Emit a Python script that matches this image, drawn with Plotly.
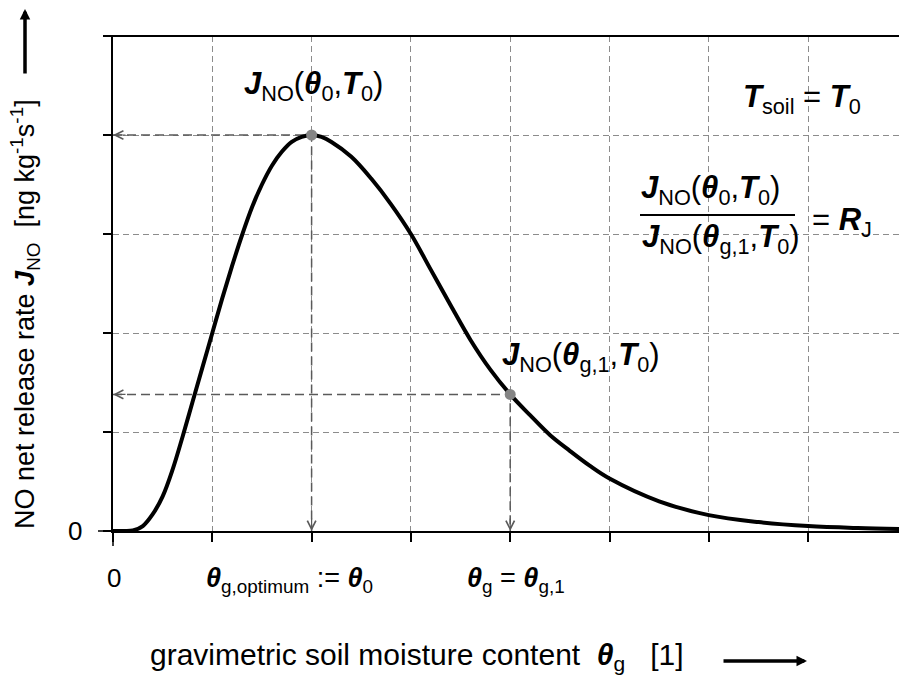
import plotly.graph_objects as go

# ---- data ----
theta = [0, 0.1, 0.2, 0.3, 0.4, 0.5, 0.6, 0.7, 0.8, 0.9, 1.0, 1.1, 1.2, 1.3, 1.4,
         1.5, 1.6, 1.7, 1.8, 1.9, 2.0, 2.1, 2.2, 2.4, 2.6, 2.8, 3.0, 3.2, 3.4, 3.6, 3.8,
         4.0, 4.2, 4.4, 4.6, 4.8, 5.0, 5.5, 6.0, 6.5, 7.0, 7.5, 7.92]
j_no = [0, 0, 0.005, 0.05, 0.17, 0.35, 0.62, 0.95, 1.3, 1.65, 2.0, 2.35, 2.68, 2.99, 3.27,
        3.5, 3.69, 3.83, 3.93, 3.98, 4.0, 3.98, 3.93, 3.78, 3.56, 3.3, 3.0, 2.64, 2.28, 1.93, 1.63,
        1.38, 1.17, 0.97, 0.81, 0.66, 0.53, 0.3, 0.16, 0.09, 0.05, 0.03, 0.02]
theta_0, j_0 = 2.0, 4.0
theta_g1, j_g1 = 4.0, 1.38
x_ticks = [0, 1, 2, 3, 4, 5, 6, 7]
y_ticks = [0, 1, 2, 3, 4, 5]

W, H = 899, 676
L, R, T, B = 113, 0, 36, 145
pw, ph = W - L - R, H - T - B
def px(x): return (x - L) / pw
def py(y): return (H - B - y) / ph

FONT = "Arial, Liberation Sans, sans-serif"
GUIDE = "#5a5a5a"
GRID = "#8c8c8c"

fig = go.Figure()
# guide lines
fig.add_trace(go.Scatter(x=[0, theta_0, theta_0], y=[j_0, j_0, 0], mode="lines",
                         line=dict(color=GUIDE, width=1.5, dash="9px,5px"), hoverinfo="skip"))
fig.add_trace(go.Scatter(x=[0, theta_g1, theta_g1], y=[j_g1, j_g1, 0], mode="lines",
                         line=dict(color=GUIDE, width=1.5, dash="9px,5px"), hoverinfo="skip"))
# curve
fig.add_trace(go.Scatter(x=theta, y=j_no, mode="lines",
                         line=dict(color="black", width=4, shape="spline", smoothing=1.0),
                         hoverinfo="skip"))
# points
fig.add_trace(go.Scatter(x=[theta_0, theta_g1], y=[j_0, j_g1], mode="markers",
                         marker=dict(color="#858585", size=11), hoverinfo="skip"))

ann = []
def txt(t, x, y, size, **kw):
    d = dict(text=t, x=px(x), y=py(y), xref="paper", yref="paper", showarrow=False,
             xanchor="center", yanchor="middle", font=dict(family=FONT, size=size, color="black"))
    d.update(kw)
    ann.append(d)

def bi(s):
    return "<b><i>%s</i></b>" % s

J = bi("J") + "<sub>NO</sub>"
th = bi("θ")
Tt = bi("T")
BIG = 31

txt(J + "(" + th + "<sub>0</sub>," + Tt + "<sub>0</sub>)", 313, 86, BIG)
txt(Tt + "<sub>soil</sub> = " + Tt + "<sub>0</sub>", 802, 99, BIG)
txt(J + "(" + th + "<sub>0</sub>," + Tt + "<sub>0</sub>)", 710, 190, BIG)
txt(J + "(" + th + "<sub>g,1</sub>," + Tt + "<sub>0</sub>)", 721, 239, BIG)
txt("= " + bi("R") + "<sub>J</sub>", 842, 222, BIG)
txt(J + "(" + th + "<sub>g,1</sub>," + Tt + "<sub>0</sub>)", 581, 357, BIG)

txt("0", 75, 531, 26)
txt("0", 114, 578, 26)
txt(th + "<sub>g,optimum</sub> := " + th + "<sub>0</sub>", 289, 580, 27)
txt(th + "<sub>g</sub> = " + th + "<sub>g,1</sub>", 516, 580, 27)

txt("gravimetric soil moisture content\u00a0\u00a0" + th + "<sub>g</sub>\u00a0\u00a0\u00a0[1]", 417, 656, 30)
txt("NO net release rate " + bi("J") + "<sub>NO</sub>\u00a0\u00a0[ng kg<sup>-1</sup>s<sup>-1</sup>]",
    25, 314, 27, textangle=-90)

# big black arrows next to axis titles
ann.append(dict(x=px(807), y=py(661), xref="paper", yref="paper", ax=-85, ay=0, text="",
                showarrow=True, arrowhead=2, arrowsize=0.6, arrowwidth=3.5, arrowcolor="black"))
ann.append(dict(x=px(25), y=py(9), xref="paper", yref="paper", ax=0, ay=66, text="",
                showarrow=True, arrowhead=2, arrowsize=0.6, arrowwidth=3.5, arrowcolor="black"))

# guide arrowheads
for (xx, yy, axp, ayp) in [(0, j_0, 14, 0), (0, j_g1, 14, 0), (theta_0, 0, 0, -14), (theta_g1, 0, 0, -14)]:
    ann.append(dict(x=xx, y=yy, xref="x", yref="y", ax=axp, ay=ayp, text="", showarrow=True,
                    arrowhead=5, arrowsize=1.4, arrowwidth=1.2, arrowcolor=GUIDE))

shapes = [
    # top frame line
    dict(type="line", xref="paper", yref="paper", x0=px(105), x1=1, y0=1, y1=1,
         line=dict(color="black", width=2)),
    # x axis extension to the left
    dict(type="line", xref="paper", yref="paper", x0=px(98), x1=0, y0=0, y1=0,
         line=dict(color="black", width=1.5)),
    # y axis extension downwards
    dict(type="line", xref="paper", yref="paper", x0=0, x1=0, y0=py(546), y1=0,
         line=dict(color="black", width=1.5)),
    # fraction bar
    dict(type="line", xref="paper", yref="paper", x0=px(640), x1=px(795), y0=py(215), y1=py(215),
         line=dict(color="black", width=2)),
]

fig.update_layout(
    width=W, height=H, margin=dict(l=L, r=R, t=T, b=B),
    paper_bgcolor="white", plot_bgcolor="white", showlegend=False,
    annotations=ann, shapes=shapes, hovermode=False,
    font=dict(family=FONT, size=20, color="black"),
    xaxis=dict(range=[0, pw / 99.3], tickvals=x_ticks, showticklabels=False,
               showline=True, linecolor="black", linewidth=1.5,
               ticks="outside", ticklen=9, tickwidth=1.5, tickcolor="black",
               showgrid=True, gridcolor=GRID, gridwidth=1, griddash="6px,4px", zeroline=False),
    yaxis=dict(range=[0, 5], tickvals=y_ticks, showticklabels=False,
               showline=True, linecolor="black", linewidth=1.5,
               ticks="outside", ticklen=8, tickwidth=1.5, tickcolor="black",
               showgrid=True, gridcolor=GRID, gridwidth=1, griddash="6px,4px", zeroline=False),
)

fig.write_html("out.html", config={"displayModeBar": False})
